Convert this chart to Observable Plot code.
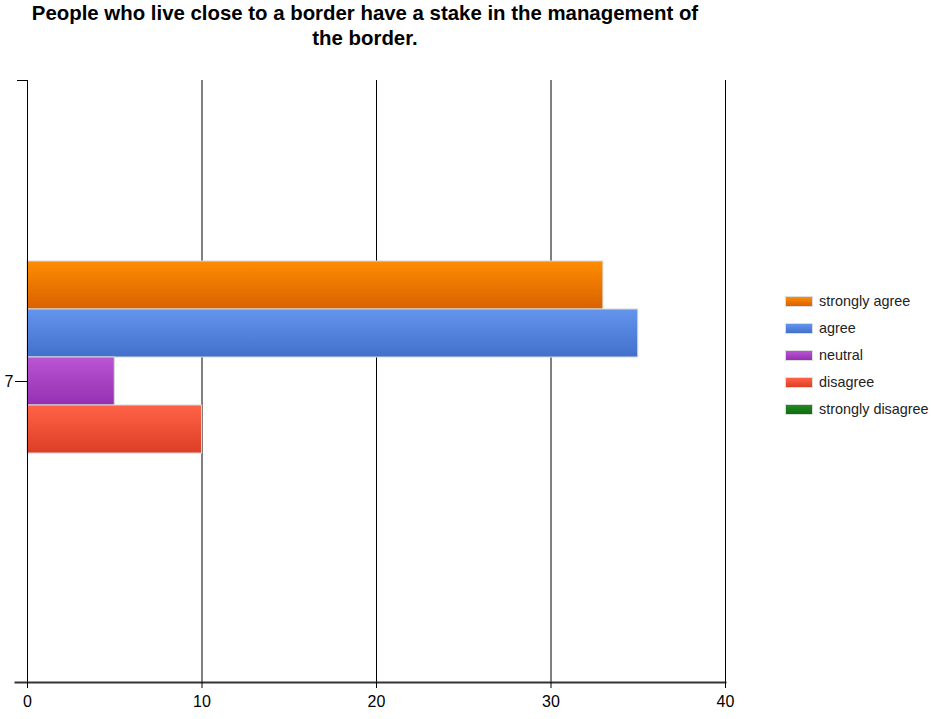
<!DOCTYPE html>
<html>
<head>
<meta charset="utf-8">
<script src="https://cdn.jsdelivr.net/npm/d3@7"></script>
<script src="https://cdn.jsdelivr.net/npm/@observablehq/plot@0.6"></script>
<style>
  body { margin: 0; background: #fff; font-family: "Liberation Sans", Arial, sans-serif; }
  #wrap { position: relative; width: 931px; height: 719px; overflow: hidden; }
  #title { position: absolute; left: 0; top: 1px; width: 730px; text-align: center; font-weight: bold; font-size: 20.4px; line-height: 25px; color: #000; white-space: nowrap; }
  #chart { position: absolute; left: 0; top: 60px; }
  #legend { position: absolute; left: 785px; top: 292px; font-size: 14.4px; color: #222; }
  .row { height: 27px; display: flex; align-items: flex-start; white-space: nowrap; line-height: 18px; }
  .sw { width: 28px; height: 11px; border: 1px solid #ddd; margin-right: 6px; margin-top: 4px; box-sizing: border-box; flex: none; }
</style>
</head>
<body>
<div id="wrap">
  <div id="title">People who live close to a border have a stake in the management of<br>the border.</div>
  <div id="chart"></div>
  <div id="legend"></div>
</div>
<script>
const categories = ["7"];
const series = ["strongly agree", "agree", "neutral", "disagree", "strongly disagree"];
const values = [33, 35, 5, 10, 0];
const topColors = ["#FF8C00", "#6495ED", "#BA55D3", "#FF6347", "#228B22"];
const bottomColors = ["#D96100", "#4170CC", "#9430B2", "#DC3E26", "#0E6E0E"];
const xTicks = [0, 10, 20, 30, 40];

const data = series.map((s, i) => ({ category: categories[0], series: s, value: values[i], idx: i }));

const defs = () => {
  const d = d3.create("svg:defs");
  series.forEach((s, i) => {
    const g = d.append("linearGradient").attr("id", "grad" + i).attr("x1", 0).attr("y1", 0).attr("x2", 0).attr("y2", 1);
    g.append("stop").attr("offset", "0%").attr("stop-color", topColors[i]);
    g.append("stop").attr("offset", "100%").attr("stop-color", bottomColors[i]);
  });
  return d.node();
};

const plot = Plot.plot({
  width: 931,
  height: 659,
  marginTop: 20,
  marginBottom: 37,
  marginLeft: 27,
  marginRight: 206,
  style: { fontFamily: "Liberation Sans, Arial, sans-serif", fontSize: "16px", color: "#000", background: "transparent" },
  x: { domain: [0, 40], ticks: xTicks, label: null },
  y: { domain: series, paddingInner: 0, paddingOuter: 3.77, axis: null },
  fy: { domain: categories, padding: 0, label: null },
  marks: [
    defs,
    Plot.gridX(xTicks.slice(1), { stroke: "#000", strokeOpacity: 1, strokeWidth: 1 }),
    ...series.map((s, i) => Plot.barX(data.filter(d => d.idx === i && d.value > 0), {
      x: "value", y: "series", fy: "category",
      fill: `url(#grad${i})`, stroke: "#d8d8d8", strokeWidth: 1
    })),
    Plot.ruleX([0], { stroke: "#000", strokeWidth: 1 }),
    Plot.frame({ anchor: "bottom", stroke: "#333", strokeWidth: 2, insetLeft: -12 }),
    Plot.frame({ anchor: "top", stroke: "#000", strokeWidth: 1, insetLeft: -10, insetRight: 698 }),
    Plot.axisX({ ticks: xTicks, tickSize: 6, tickPadding: 7, label: null, fontSize: 16 }),
    Plot.axisFy({ anchor: "left", tickSize: 12, tickPadding: 2, label: null, fontSize: 16 })
  ]
});
document.getElementById("chart").appendChild(plot);

const legend = document.getElementById("legend");
series.forEach((s, i) => {
  const row = document.createElement("div");
  row.className = "row";
  const sw = document.createElement("div");
  sw.className = "sw";
  sw.style.background = `linear-gradient(${topColors[i]}, ${bottomColors[i]})`;
  const t = document.createElement("span");
  t.textContent = s;
  row.appendChild(sw);
  row.appendChild(t);
  legend.appendChild(row);
});
</script>
</body>
</html>
